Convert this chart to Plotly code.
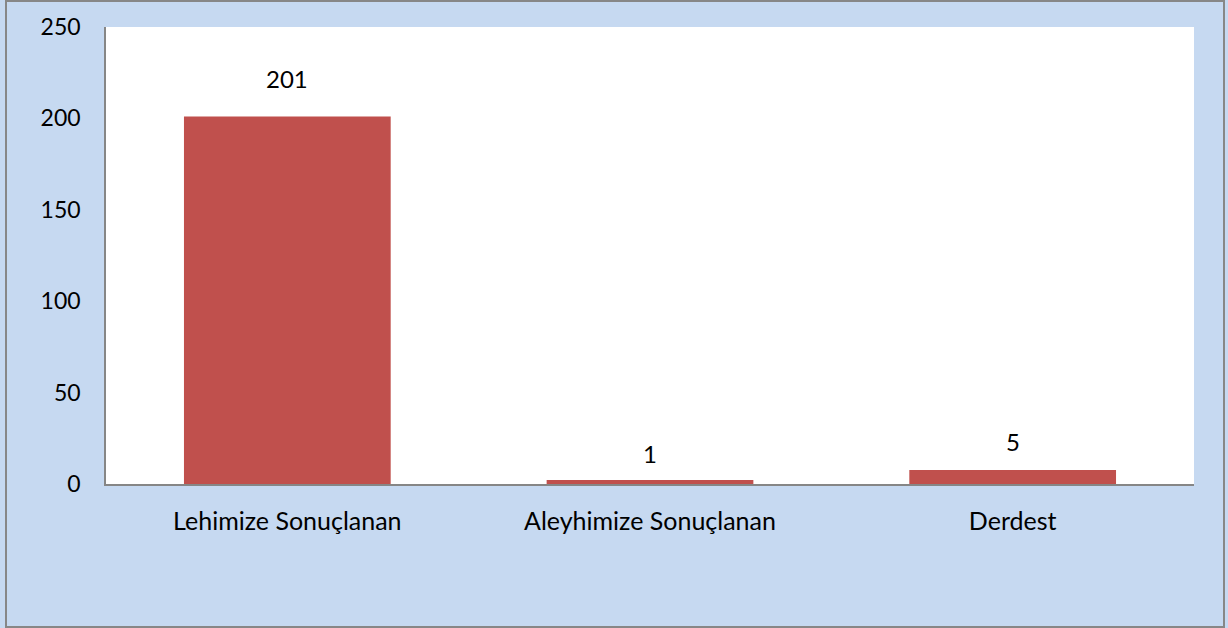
import plotly.graph_objects as go

# kategoriler ve değerler
kategoriler = ["Lehimize Sonuçlanan", "Aleyhimize Sonuçlanan", "Derdest"]
bar_yukseklik = [201, 2.2, 7.7]   # resimden okunan çubuk boyları
etiketler = ["201", "1", "5"]     # çubukların üstündeki etiketler
etiket_kaydirma = [22, 10, 12]    # etiketlerin çubuktan yukarı kayması (px)
y_ticks = [0, 50, 100, 150, 200, 250]

FONT = "Lato"
W, H = 1228, 628
L, R, T, B = 106, 34, 27, 144

fig = go.Figure(
    go.Bar(
        x=kategoriler,
        y=bar_yukseklik,
        marker_color="#C0504D",
        marker_line_width=0,
    )
)

for kat, yuk, txt, ks in zip(kategoriler, bar_yukseklik, etiketler, etiket_kaydirma):
    fig.add_annotation(
        x=kat,
        y=yuk,
        text=txt,
        showarrow=False,
        yanchor="bottom",
        yshift=ks,
        font=dict(family=FONT, size=24, color="black"),
    )

# dış çerçeve
pw, ph = W - L - R, H - T - B
fig.add_shape(
    type="rect",
    xref="paper",
    yref="paper",
    x0=(6 - L) / pw,
    x1=(W - 4 - L) / pw,
    y0=-(H - 1 - T - ph) / ph,
    y1=(T - 1) / ph + 1,
    line=dict(color="#878787", width=2),
    fillcolor="rgba(0,0,0,0)",
    layer="below",
)

fig.update_layout(
    width=W,
    height=H,
    margin=dict(l=L, r=R, t=T, b=B),
    paper_bgcolor="#C6D9F1",
    plot_bgcolor="white",
    bargap=0.43,
    showlegend=False,
    font=dict(family=FONT, size=23, color="black"),
    xaxis=dict(
        showline=True,
        linecolor="#868686",
        linewidth=1.5,
        showgrid=False,
        ticks="",
        tickfont=dict(size=25),
        ticklabelstandoff=14,
    ),
    yaxis=dict(
        range=[0, 250],
        tickvals=y_ticks,
        showline=True,
        linecolor="#868686",
        linewidth=1.5,
        showgrid=False,
        zeroline=False,
        ticks="",
        ticklabelstandoff=19,
    ),
)

fig.write_html(
    "out.html",
    config={"displayModeBar": False},
    post_script="document.body.style.margin='0';document.body.style.overflow='hidden';",
)
